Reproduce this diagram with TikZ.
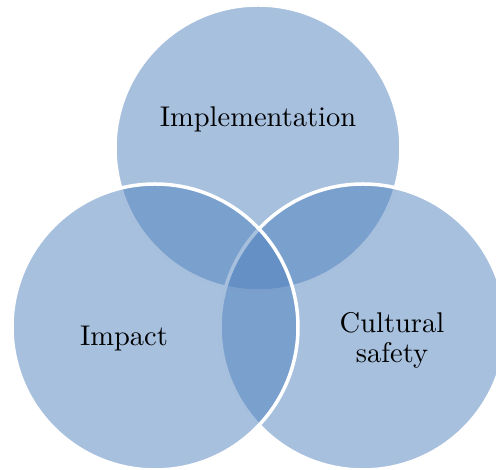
\documentclass[tikz,border=0pt]{standalone}
\usepackage{tikz}
\usetikzlibrary{positioning}
\definecolor{vennblue}{HTML}{4F81BD}

\tikzset{
  vennset/.style={fill=vennblue, fill opacity=0.5, draw=white, line width=3.5pt},
  vennlabel/.style={font=\fontsize{10}{10.5}\selectfont, align=center, scale=2.85, transform shape}
}

\begin{document}
\begin{tikzpicture}[x=1pt,y=1pt]
  \useasboundingbox (0,0) rectangle (496,470);

  % the three sets, drawn top, right, left
  \begin{scope}
    \clip (0,0) rectangle (496,470);
    \filldraw[vennset] (258,322) circle (143);
    \filldraw[vennset] (363,143) circle (143);
    \filldraw[vennset] (155,143) circle (143);
  \end{scope}

  \node[vennlabel] (implementation) at (258,351) {Implementation};
  \node[vennlabel] (impact) at (124,131) {Impact};
  \node[vennlabel] (culture) at (392,130) {Cultural\\safety};
\end{tikzpicture}
\end{document}
